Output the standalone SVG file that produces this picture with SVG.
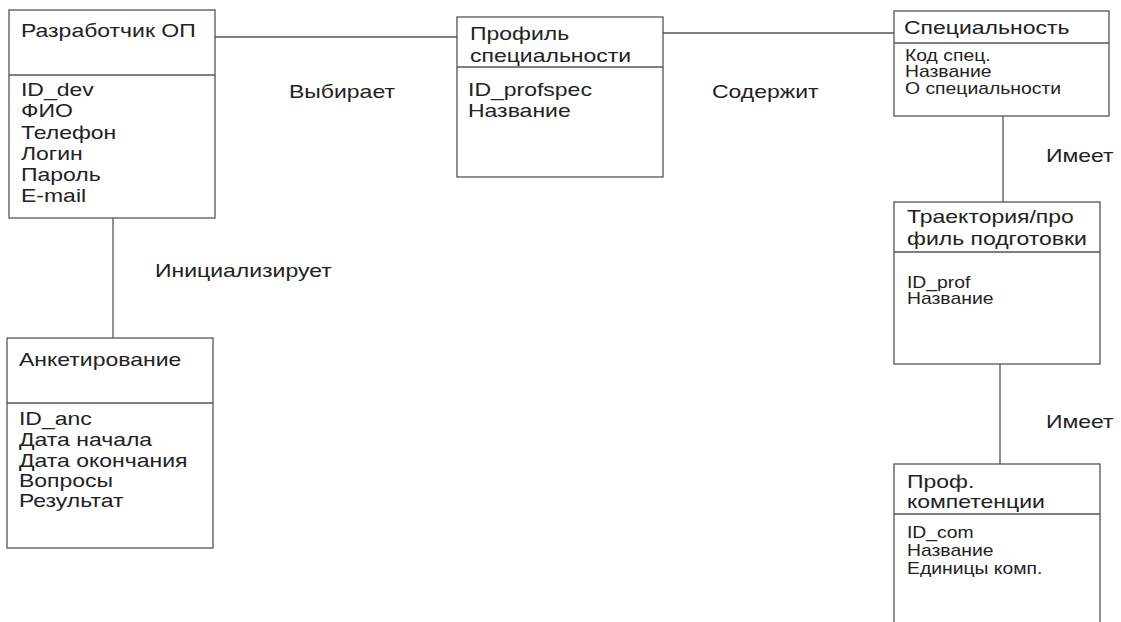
<svg xmlns="http://www.w3.org/2000/svg" width="1121" height="622" viewBox="0 0 1121 622">
<style>
.box{fill:#fff;stroke:#555;stroke-width:1.3}
.div{stroke:#555;stroke-width:1.3}
.con{stroke:#555;stroke-width:1.3;fill:none}
.t,.s{font-family:"Liberation Sans",Arial,sans-serif;fill:#222;transform-box:fill-box;transform-origin:left center;transform:scaleX(1.21)}
.t{font-size:19px}
.s{font-size:16px}
</style>
<rect width="1121" height="622" fill="#fff"/>
<g id="connectors">
<line class="con" x1="215" y1="37" x2="457" y2="37"/>
<line class="con" x1="663" y1="33" x2="894" y2="33"/>
<line class="con" x1="1003" y1="116" x2="1003" y2="202"/>
<line class="con" x1="1000" y1="364" x2="1000" y2="464"/>
<line class="con" x1="113" y1="218" x2="113" y2="338"/>
<text class="t" x="289" y="98">Выбирает</text>
<text class="t" x="712" y="98">Содержит</text>
<text class="t" x="1046" y="162">Имеет</text>
<text class="t" x="1046" y="428">Имеет</text>
<text class="t" x="155" y="277">Инициализирует</text>
</g>
<g id="developer">
<rect class="box" x="9" y="10" width="206" height="208"/>
<line class="div" x1="9" y1="75" x2="215" y2="75"/>
<text class="t" x="21" y="37">Разработчик ОП</text>
<text class="t" x="21" y="96">ID_dev</text>
<text class="t" x="21" y="117">ФИО</text>
<text class="t" x="21" y="139">Телефон</text>
<text class="t" x="21" y="160">Логин</text>
<text class="t" x="21" y="181">Пароль</text>
<text class="t" x="21" y="202">E-mail</text>
</g>
<g id="profspec">
<rect class="box" x="457" y="17" width="206" height="160"/>
<line class="div" x1="457" y1="67" x2="663" y2="67"/>
<text class="t" x="470" y="40">Профиль</text>
<text class="t" x="470" y="62">специальности</text>
<text class="t" x="468" y="96">ID_profspec</text>
<text class="t" x="468" y="117">Название</text>
</g>
<g id="speciality">
<rect class="box" x="894" y="11" width="215" height="105"/>
<line class="div" x1="894" y1="43" x2="1109" y2="43"/>
<text class="t" x="904" y="34">Специальность</text>
<text class="s" x="905" y="61">Код спец.</text>
<text class="s" x="905" y="77">Название</text>
<text class="s" x="905" y="94">О специальности</text>
</g>
<g id="trajectory">
<rect class="box" x="894" y="202" width="206" height="162"/>
<line class="div" x1="894" y1="252" x2="1100" y2="252"/>
<text class="t" x="907" y="223">Траектория/про</text>
<text class="t" x="907" y="245">филь подготовки</text>
<text class="s" x="907" y="288">ID_prof</text>
<text class="s" x="907" y="304">Название</text>
</g>
<g id="competencies">
<rect class="box" x="894" y="464" width="206" height="170"/>
<line class="div" x1="894" y1="514" x2="1100" y2="514"/>
<text class="t" x="907" y="488">Проф.</text>
<text class="t" x="907" y="508">компетенции</text>
<text class="s" x="907" y="538">ID_com</text>
<text class="s" x="907" y="556">Название</text>
<text class="s" x="907" y="574">Единицы комп.</text>
</g>
<g id="survey">
<rect class="box" x="7" y="338" width="206" height="210"/>
<line class="div" x1="7" y1="403" x2="213" y2="403"/>
<text class="t" x="19" y="366">Анкетирование</text>
<text class="t" x="19" y="425">ID_anc</text>
<text class="t" x="19" y="446">Дата начала</text>
<text class="t" x="19" y="467">Дата окончания</text>
<text class="t" x="19" y="487">Вопросы</text>
<text class="t" x="19" y="507">Результат</text>
</g>
</svg>
